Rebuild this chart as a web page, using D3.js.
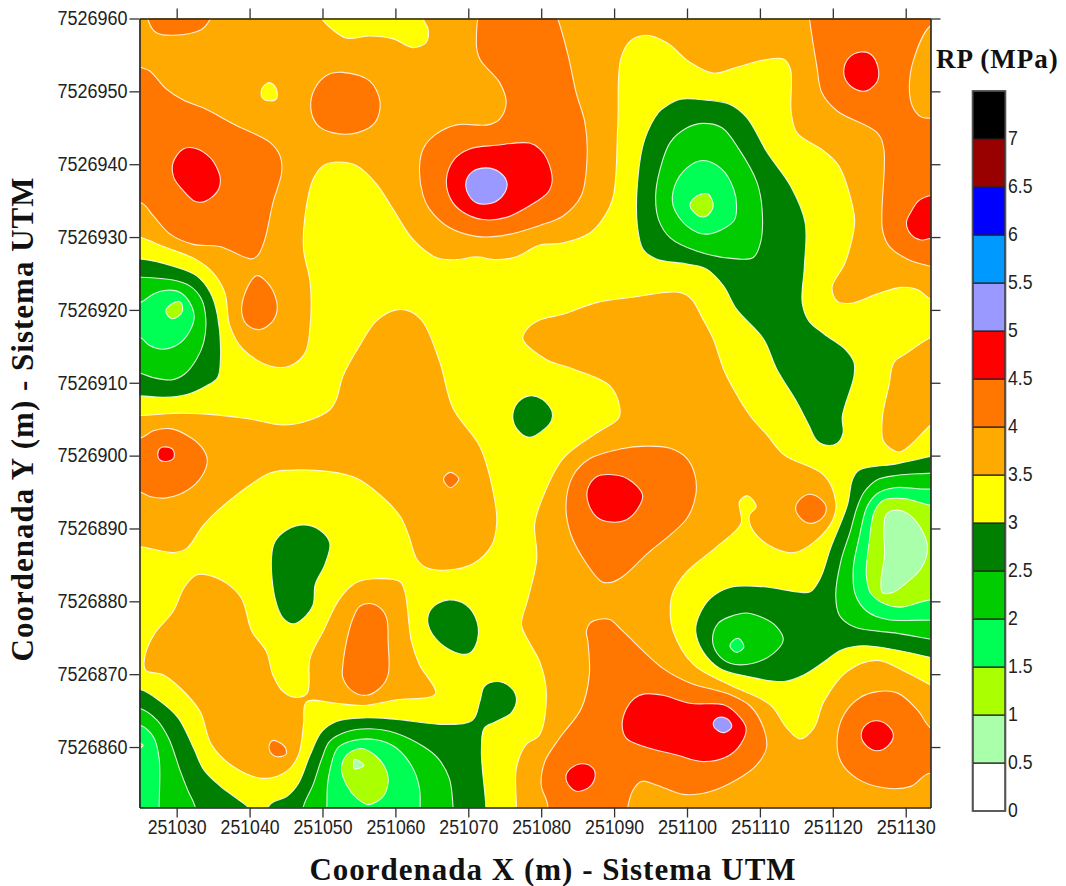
<!DOCTYPE html>
<html><head><meta charset="utf-8">
<script src="https://cdn.jsdelivr.net/npm/d3@7"></script>
<style>html,body{margin:0;padding:0;background:#fff}svg{display:block}</style>
</head><body><div id="chart"></div>
<script>
// Legend bands (RP, MPa)
const bandFloors = [0,0.5,1,1.5,2,2.5,3,3.5,4,4.5,5,5.5,6,6.5,7];
const bandColors = ["#ffffff","#aaffaa","#aaff00","#00ff55","#00cc00","#008000","#ffff00","#ffaa00","#ff7700","#ff0000","#9999ff","#0099ff","#0000ff","#990000","#000000"];
const legendTicks = ["0","0.5","1","1.5","2","2.5","3","3.5","4","4.5","5","5.5","6","6.5","7"];
const xTicks = [251030,251040,251050,251060,251070,251080,251090,251100,251110,251120,251130];
const yTicks = [7526860,7526870,7526880,7526890,7526900,7526910,7526920,7526930,7526940,7526950,7526960];
// Isoline rings: metres east of 251000, metres north of 7526800
const eastOffset = 251000, northOffset = 7526800;

const o35North = [[24.9,130],[28.2,128.7],[32.7,126.9],[35,125.1],[36.6,122.4],[37.3,117.8],[39.1,114.6],[42.8,112.3],[45.5,112.3],[47.6,114.1],[48.3,117.8],[48.3,123.8],[47.4,128.3],[47.6,132.9],[48.7,137.9],[50.1,139.8],[51.9,140.3],[54.7,139.8],[57.4,137.3],[59.7,133.8],[62.4,129.7],[65.6,127.2],[68.4,126.9],[71.1,127.3],[73.8,126.9],[76.6,127.3],[79.8,128.9],[83,129.2],[86.7,130.6],[88.7,132.9],[89.9,135.7],[90.5,145.3],[90.9,154.4],[92.2,156.9],[94.4,157.7],[97.2,156.7],[100.4,154],[103.6,152.5],[106.8,153.3],[110.5,154.3],[113.3,154.4],[114.2,153],[114.3,147.1],[115.1,144.3],[118.8,141.8],[120.8,139.8],[122.7,134.3],[123,132],[121.7,126.5],[119.9,123.1],[120.6,121.2],[122.4,120.9],[126.1,122.2],[129.3,123.1],[131.6,122.8],[133.4,121.5],[137,120],[140,130],[140,165],[80,166],[20,165],[20,131]];
const o35West = [[60.1,120],[57.4,118.5],[55.1,115.1],[52.8,110.9],[51.9,107.7],[51,106.3],[48.3,104.9],[44.7,104.2],[39.6,105.1],[34.1,105.7],[29.6,105.8],[25,105.5],[20,105.5],[20,87.5],[25,87.5],[29.6,86.7],[31.4,87.3],[33.7,90.5],[37.3,93.9],[42.8,97.6],[45.1,98],[51,97.8],[54.7,96.9],[57.9,94.6],[60.7,91.6],[61.8,89.1],[63,85.7],[64.3,84.6],[67.1,84.3],[70.7,85.2],[73.2,87.7],[73.9,90.9],[73.4,95.1],[71.6,101.2],[67.9,106.5],[66.1,112.8],[63.8,118.3],[62,119.8]];
const o35SouthWest = [[32.7,83.6],[31.1,82],[29.5,78.6],[27,75.6],[25.7,72.7],[25.7,70.6],[28.2,69.9],[30.5,68.1],[33.2,64.9],[34.8,60.3],[37.8,57.3],[41.9,55.7],[45.1,56.7],[46.7,58.9],[47.4,63.1],[47.8,66.2],[51.9,66],[55.6,65.7],[60.1,66.5],[65.5,67.3],[63.3,71.3],[62.2,74.5],[61.3,81.3],[60.6,82.7],[57.4,83.1],[54.7,82.6],[52.4,80.4],[50.1,75.9],[48.3,72.2],[47.9,67.4],[46.4,66.8],[44.6,67.6],[43.2,69.9],[42.3,73.1],[40.3,75.9],[38.9,80.4],[36.8,82.5],[34.3,83.6]];
const o35SouthEast = [[79.8,118.6],[83,119.4],[87.6,121],[92.2,121.7],[99,122.4],[100.6,121.5],[102.2,118.7],[103.6,116],[105,111.9],[106.4,109.1],[108.7,105.4],[111,102.8],[113.3,100.1],[118.8,97.3],[120.4,93.7],[120,91.2],[117.5,88.2],[114.7,86.7],[112,87.3],[109.7,88.9],[108.6,90.7],[108.6,91.9],[109.5,93],[108.3,94.5],[107.2,93.7],[107.4,90.7],[104.1,87.5],[100,84.1],[98.1,81.3],[97.7,79.1],[98.1,75.9],[100.9,71.3],[105.9,68.5],[111.4,65.8],[113.7,62.6],[115.5,61.1],[117.4,62.6],[118.8,66.3],[122,70.4],[126.1,71.9],[129.8,70.4],[133.4,68.5],[138,66],[138,48],[100,48],[76.6,48],[76.6,51.9],[76.6,57.1],[77.9,60.3],[79.8,61.7],[80.7,67.6],[79.8,71.7],[78.4,74.3],[77.3,76.8],[78.2,80.4],[79.4,85.9],[79.1,90.5],[79.8,93.2],[83,99.6],[87.6,103.1],[90.6,105.1],[90.8,106.5],[89.4,109.6],[84.4,111.9],[80.7,113.2],[77.5,116],[78,117.3]];
const o35East = [[133.4,116.2],[130.2,114.1],[128.4,112.8],[127.7,109.6],[126.8,105.2],[127,101.9],[129.1,100.5],[130.7,101.5],[133.4,104.2],[138,108],[138,118]];
const o35NorthEast = [[133.4,159],[131.1,154.4],[130.5,150.8],[130.9,148],[132.1,146.5],[133.4,146.3],[137,146],[137,160]];

const y30Islet = [[42.7,151.2],[43.6,150.5],[43.7,149],[42.6,148.7],[41.7,149.2],[41.7,150.4]];
const y30Top = [[49,163],[49.9,160],[51,158.8],[53.3,157.3],[56.5,157.6],[59.7,157.2],[62.4,156],[64.2,156.7],[64.5,158.5],[63.8,160],[63.5,163]];

const o40TopLeft = [[26,163],[26.4,159],[27.3,158],[29.5,157.7],[33.4,158.5],[34.6,159.9],[36,163]];
const o40West = [[25,153.3],[26.3,152.8],[28.6,150.3],[30.9,148.8],[33.7,147.7],[38.2,145.3],[42.8,143],[44.2,141.1],[44.4,138.9],[43.2,134.7],[42.1,129.7],[41.2,127.6],[40.3,127],[35.9,128.7],[32.3,129],[29.1,130.4],[26.8,132.9],[25,134.7],[20,131],[20,155]];
const o40Circle = [[52.8,152.6],[56.5,151.4],[57.9,148.5],[57.2,145.7],[54.7,144.3],[51.5,144.3],[49.4,145.3],[48.4,147.6],[49,150.5],[51,152.4]];
const o40Centre = [[72.5,163],[71.1,156.7],[71.6,154.4],[74.3,151.2],[75.2,148.5],[74.3,146.2],[72.7,145.4],[68.4,145.4],[65.4,144],[63.8,142.1],[63.3,139.3],[63.8,135.7],[64.7,133.8],[67.4,131.3],[71.1,130.1],[74.7,130.2],[79.8,131.6],[83,132.9],[85.5,135.7],[86.3,141.1],[86,145.7],[84.8,149.8],[83.7,154.9],[82.3,159.9],[81,163]];
const o40Drop = [[41,124.7],[42.8,123.3],[43.8,120.5],[43.2,118.5],[41.4,117.3],[39.6,118],[38.9,120.1],[39.8,123.3]];
const o40TopRight = [[116.5,163],[116.8,160],[117.8,153.5],[118.5,149.8],[120.6,147.3],[126.1,144.3],[127,142.1],[126.8,131.1],[127.7,128.8],[130.2,127],[133.4,126],[138,125],[138,163]];
const o40Left = [[25,102.4],[26.8,103.4],[29.1,103.7],[31.4,102.8],[33.4,101.2],[34.2,99.4],[33.4,97.1],[31.4,95.2],[28.6,94.2],[26.3,94.4],[25,95],[20,96],[20,102]];
const o40Diamond = [[67.5,97.7],[68.7,96.8],[67.5,95.6],[66.6,96.8]];
const o40Oval = [[56.5,79.7],[57.9,79.1],[58.8,77.7],[59,74.5],[59,69.9],[57.9,68.1],[56,67.1],[54.2,67.6],[52.8,69.5],[52.8,71.3],[53.5,75.4],[54.2,77.7],[55.1,79.3]];
const o40Speck = [[43.2,60.9],[44.8,60.1],[45,59],[43.7,58.7],[42.8,59.4],[42.7,60.3]];
const o40Mid = [[94.4,101.3],[97.7,101],[100,99.6],[101.1,97.3],[101.2,94.6],[100,91.4],[94.4,86.4],[91.2,83.4],[89.6,82.6],[88.3,82.7],[86.2,85.2],[84.1,89.1],[83.4,93.2],[84.4,97.3],[86.7,99.6],[90.8,100.9]];
const o40Small = [[116.9,94.7],[118.5,93.9],[119.1,92.8],[118.5,91.4],[116.9,90.7],[115.6,91.4],[114.9,92.8],[115.6,94.1]];
const o40South = [[87.8,77.5],[89.4,77.5],[91.2,75.9],[96.7,70.8],[100.4,68.8],[105.9,67.2],[108.7,65.6],[110.5,62.6],[110.9,59.9],[109.6,57.6],[106.8,55.5],[103.2,53.9],[99.5,53.5],[95.8,54.8],[93.8,55.3],[92.6,54.1],[91.9,51.9],[91.5,48],[80,48],[80.9,51.9],[80,54.8],[80.5,58],[82.5,61.2],[85.5,65.3],[86.6,69.9],[86.4,74.5],[86.2,75.9],[86.7,77]];
const o40SouthEast = [[126.1,67.6],[128.9,67.4],[131.6,65.1],[133.4,62.6],[138,60],[138,52],[133.4,56.4],[130.7,54.6],[127,54.4],[123.3,55.7],[121.1,58],[120.6,61.2],[121.5,64.4],[123.6,66.7]];

const r45West = [[30.9,142.1],[32.5,142.2],[34.6,140.9],[35.6,139.3],[36,137.9],[35.6,136.3],[33.9,134.9],[32.5,134.9],[30.7,136.6],[29.6,138.2],[29.5,140.2]];
const r45Centre = [[67,137.9],[68.1,140.7],[70.2,142.1],[73.8,142.6],[78.4,142.9],[79.8,142.1],[80.8,140.7],[81.5,137.7],[80.9,136.1],[78.4,134.3],[75.2,132.7],[72,132.4],[69.3,133.4],[67.7,135]];
const r45TopRight = [[123.8,155.4],[125.2,155.1],[126.2,153.3],[126.1,151.4],[124.7,150.1],[123.6,150.1],[122,151.2],[121.5,152.8],[122.2,154.6]];
const r45East = [[133.4,135.7],[131.8,135],[130.7,133.4],[130.1,132],[130.7,130.4],[132.1,129.6],[133.4,129.8],[138,129.5],[138,136]];
const r45Dot = [[28.4,101.2],[29.5,100.8],[29.6,99.7],[28.6,99.2],[27.7,99.4],[27.4,100.1],[27.7,101]];
const r45Mid = [[89.4,97.4],[91.9,96.8],[93.9,94.6],[93.3,92.8],[91.7,91.2],[89.4,90.9],[87.6,91.6],[86.4,93.7],[86.4,95.5],[87.6,97.1]];
const r45South = [[94.2,67.3],[96.7,67.1],[100.4,66],[105,65.8],[106.8,64.6],[108.1,62.6],[107.3,60.3],[105.5,58.7],[102.2,58],[98.6,58.9],[94,60.1],[91.7,61.2],[91.1,63],[91.7,65.3],[92.8,66.7]];
const r45SmallSouth = [[85.7,57.7],[87.1,57.1],[87.4,56],[86.7,54.6],[85,53.9],[83.9,54.6],[83.4,56],[84.1,57.1]];
const r45SouthEast = [[126.1,63.6],[127.7,62.8],[128.3,61.5],[127.5,60.1],[126.1,59.5],[124.7,60.1],[123.9,61.5],[124.5,63]];

const p50Centre = [[72.5,139.5],[74.3,138.9],[75.3,137.5],[75,136.1],[73.4,134.7],[71.1,134.7],[69.8,136.3],[69.7,137.7],[70.6,139]];
const p50South = [[104.8,64.1],[105.9,63.5],[106.1,62.7],[105.2,62],[104.3,62.2],[103.6,63.1],[104,63.9]];

const g25West = [[25,127],[29.5,126],[32.7,124.7],[34.6,122.4],[35.6,119.2],[36,113.2],[35.6,110.7],[34.1,109.6],[31.4,108.4],[28.2,108],[25,108.2],[20,108],[20,127]];
const g20West = [[25,124.5],[29.5,124.1],[31.8,123.3],[33.4,121.5],[34,118.7],[33.7,115.5],[32.7,113.2],[31.1,111.2],[29.3,110.4],[26.8,110.7],[25,111.3],[20,112],[20,124.5]];
const g15West = [[25,121],[26.8,122.2],[28.6,122.7],[30.5,122.4],[31.8,121],[32.4,119],[31.8,117.1],[30.5,115.5],[28.2,114.6],[26.3,115.1],[25,116.2],[20,117],[20,120]];
const g10West = [[29.3,120.8],[30.5,121.1],[30.8,119.9],[30.2,119.1],[29.3,118.8],[28.5,119.8]];

const g25Ridge = [[99,148.9],[102.7,148.8],[105.9,148.2],[108.2,146.4],[111,141.6],[114.2,137],[116.2,132],[116.1,126],[115.8,121],[116.7,118.5],[118.8,116.7],[121.7,114.6],[122.9,112.8],[122.9,110.9],[121.3,105.4],[121.4,103.1],[120.6,101.7],[119.2,101.4],[117.8,102.1],[116.7,104.2],[115.1,107.3],[112.3,111.9],[110.5,116],[106.8,120.1],[105,123.3],[102.7,125.6],[100,126.3],[95.8,127],[94,128.3],[93.2,131.5],[93.3,138.4],[94.2,143.4],[96.1,147.1],[97.2,148]];
const g20Ridge = [[102.2,145.6],[104.8,145],[107.1,142.1],[109.6,137.5],[110.3,133.8],[110.1,129.3],[109.1,127.2],[106.8,127],[101.3,128.1],[97.7,129.9],[96.1,132.4],[95.7,135.7],[96.3,139.3],[97.7,143],[100,145]];
const g15Ridge = [[102.2,140.5],[104.8,139.3],[106.4,136.6],[106.8,134.3],[106.4,132.2],[102.7,130.4],[100,131.5],[98.1,134.3],[98.3,137],[100,139.5]];
const g10Ridge = [[102,135.9],[102.9,135.9],[103.6,134.3],[102.7,132.9],[101.6,132.9],[100.4,134.3],[100.9,135.3]];

const g25Islet = [[78.4,108.2],[80.2,107.7],[81.5,106],[81.4,104.8],[80.5,103.7],[78.4,102.5],[76.8,103.5],[76.1,105.3],[76.8,107.3]];
const g25Tear = [[47.4,90.5],[49.6,89.8],[51,88],[50.3,85],[49,82.3],[48.7,79.5],[47.4,77.7],[46,76.9],[44.6,77.7],[43.5,80.4],[43,85.9],[43.5,88.2],[45.1,89.8]];
const g25Round = [[67.4,80.2],[69.7,79.5],[71.2,77.2],[71.2,74.5],[70.2,72.9],[68.8,72.8],[66.1,74.3],[64.5,76.8],[64.7,78.6],[65.8,79.7]];

const g25Corner = [[25,67.9],[27.7,66.3],[30.2,64],[32.3,59.9],[33.7,56.9],[36,54.6],[38.7,52.6],[39.8,51.6],[39.5,48],[20,48],[20,68]];
const g20Corner = [[25,65.3],[27.3,63.7],[28.9,61.2],[30.5,56.7],[31.6,53.9],[32.5,51.9],[33,48],[20,48],[20,65.3]];
const g15Corner = [[25,63],[26.8,61.4],[27.6,58.4],[27.6,51.9],[27.6,48],[20,48],[20,63]];
const g10Corner = [[24,60.8],[25.4,60.2],[24,59.5]];

const g25South = [[42.8,52.1],[45.1,53.2],[46.7,55],[48.3,58.9],[49.9,62.1],[51.9,63.5],[55.6,64],[60.1,63.8],[67,63.1],[70.6,63.7],[71.6,66.3],[72.2,68.3],[73.8,69],[75.7,68.3],[76.6,66.7],[75.9,64.7],[73.8,63.5],[72.2,62.6],[71.8,59.4],[72.4,51.9],[72.4,48],[42,48]];
const g20South = [[47.4,51.9],[48.7,54.8],[49.9,58.4],[51,60.8],[53.3,62.1],[56.5,62.5],[60.1,61.9],[63.8,60.1],[65.8,58.5],[67.4,55.7],[67.9,51.9],[68,48],[47,48]];
const g15South = [[50.6,51.9],[50.8,55.7],[52.1,59.9],[54.2,60.9],[57.4,61],[60.1,59.9],[62.4,57.1],[63.3,54.4],[63.4,51.9],[63.4,48],[50.6,48]];
const g10South = [[55.3,59.8],[57.4,58.7],[58.8,56.7],[59,55.1],[58.3,53.2],[56.3,52.1],[54.7,53],[53.3,54.8],[52.6,57.1],[53.3,58.9]];
const g05South = [[54.4,58.3],[55.7,57.5],[54.4,57]];

const g25East = [[133.4,99.9],[128.9,98.9],[123.6,98],[122.7,96.7],[122,93.2],[119.7,87.3],[118.3,83.2],[116.9,81.3],[115.1,81.3],[110.5,82],[105.9,81.9],[103.2,80.4],[101.6,77.9],[101.2,75.9],[102.2,73.1],[104.5,70.8],[108.2,69.7],[113.3,69],[116,69.9],[118.8,71.7],[121.1,73.3],[124.3,73.9],[133.4,72.3],[138,71],[138,101]];
const g20EastBlob = [[108.2,78.4],[110.5,77.7],[112.3,76.5],[113.2,74.7],[111.9,72.9],[109.1,71.5],[105.9,71.5],[104.1,72.9],[103.5,74.9],[104.3,77],[105.9,77.9]];
const g15EastBlob = [[107.1,74.9],[107.8,73.7],[106.8,73],[105.9,73.8],[106.2,74.5]];
const g20East = [[133.4,97.6],[128.9,97.3],[126.1,96.7],[124.3,95],[123.3,92.8],[122.4,89.6],[121.1,85.5],[120.4,80.9],[120.9,78.1],[122.9,76.5],[128.9,75.6],[133.4,74.8],[138,74],[138,98]];
const g15East = [[133.4,95.4],[128.4,95.6],[126.1,94.8],[124.7,93],[123.6,88.7],[122.8,84.5],[123.1,80.9],[124.7,78.6],[127.5,77.5],[133.4,77.4],[138,77],[138,96]];
const g10East = [[133.4,93.2],[129.8,94.1],[127,93.9],[125.7,92.3],[125,88.2],[124.6,83.6],[125.2,81.1],[127,79.7],[129.3,79.2],[133.4,80.2],[138,80],[138,93]];
const g05East = [[128.4,92.5],[130.2,92.1],[132.1,90],[133,87.3],[132.1,84.5],[129.8,82.3],[128.2,81.2],[126.8,81.2],[126.6,82.7],[127.1,86.4],[127,89.6],[127.3,91.9]];

// Paint order: [band floor, ring]
const regions = [
 [3.5,o35North],[3.5,o35West],[3.5,o35SouthWest],[3.5,o35SouthEast],[3.5,o35East],
 [3,y30Islet],[3,y30Top],
 [4,o40TopLeft],[4,o40West],[4,o40Circle],[4,o40Centre],[4,o40Drop],[4,o40TopRight],[3.5,o35NorthEast],
 [4,o40Left],[4,o40Diamond],[4,o40Oval],[4,o40Speck],[4,o40Mid],[4,o40Small],[4,o40South],[4,o40SouthEast],
 [4.5,r45West],[4.5,r45Centre],[4.5,r45TopRight],[4.5,r45East],[4.5,r45Dot],[4.5,r45Mid],[4.5,r45South],[4.5,r45SmallSouth],[4.5,r45SouthEast],
 [5,p50Centre],[5,p50South],
 [2.5,g25West],[2,g20West],[1.5,g15West],[1,g10West],
 [2.5,g25Ridge],[2,g20Ridge],[1.5,g15Ridge],[1,g10Ridge],
 [2.5,g25Islet],[2.5,g25Tear],[2.5,g25Round],
 [2.5,g25Corner],[2,g20Corner],[1.5,g15Corner],[1,g10Corner],
 [2.5,g25South],[2,g20South],[1.5,g15South],[1,g10South],[0.5,g05South],
 [2.5,g25East],[2,g20EastBlob],[1.5,g15EastBlob],[2,g20East],[1.5,g15East],[1,g10East],[0.5,g05East]
];

const W = 1066, H = 886;
const svg = d3.select("#chart").append("svg").attr("width",W).attr("height",H);
const x = d3.scaleLinear().domain([251024.9,251133.4]).range([139.5,930.5]);
const y = d3.scaleLinear().domain([7526851.7,7526960]).range([807.5,18.5]);
const colorOf = d3.scaleOrdinal().domain(bandFloors).range(bandColors);

svg.append("clipPath").attr("id","plot").append("rect")
  .attr("x",139.5).attr("y",18.5).attr("width",791).attr("height",789);

const line = d3.line()
  .x(d=>x(d[0]+eastOffset)).y(d=>y(d[1]+northOffset))
  .curve(d3.curveCatmullRomClosed.alpha(0.5));

const plot = svg.append("g").attr("clip-path","url(#plot)");
plot.append("rect").attr("x",139.5).attr("y",18.5).attr("width",791).attr("height",789)
  .attr("fill",colorOf(3));
plot.selectAll("path.region").data(regions).join("path").attr("class","region")
  .attr("d",d=>line(d[1]))
  .attr("fill",d=>colorOf(d[0]))
  .attr("stroke","#ffffff").attr("stroke-opacity",0.85).attr("stroke-width",1.1);

const tickFont = "'Liberation Sans',Arial,sans-serif";
function styleAxis(g,labelWidth){
  g.select(".domain").attr("stroke","#222").attr("stroke-width",1.6);
  g.selectAll(".tick line").attr("stroke","#333").attr("stroke-width",1.3);
  g.selectAll("text").attr("font-family",tickFont).attr("font-size",19.5).attr("fill","#222");
  if(labelWidth) g.selectAll("text").attr("textLength",labelWidth).attr("lengthAdjust","spacingAndGlyphs");
  else g.selectAll("text").remove();
}
const fmt = d3.format("d");
svg.append("g").attr("transform","translate(0,807.5)")
  .call(d3.axisBottom(x).tickValues(xTicks).tickFormat(fmt).tickSize(10).tickPadding(3).tickSizeOuter(0)).call(styleAxis,59);
svg.append("g").attr("transform","translate(0,18.5)")
  .call(d3.axisTop(x).tickValues(xTicks).tickSize(10).tickSizeOuter(0)).call(styleAxis,0);
svg.append("g").attr("transform","translate(139.5,0)")
  .call(d3.axisLeft(y).tickValues(yTicks).tickFormat(fmt).tickSize(10).tickPadding(2).tickSizeOuter(0)).call(styleAxis,70);
svg.append("g").attr("transform","translate(930.5,0)")
  .call(d3.axisRight(y).tickValues(yTicks).tickSize(10).tickSizeOuter(0)).call(styleAxis,0);

const titleFont = "'Liberation Serif','Times New Roman',serif";
svg.append("text").attr("x",553).attr("y",880).attr("text-anchor","middle")
  .attr("font-family",titleFont).attr("font-weight","bold").attr("font-size",31).attr("letter-spacing",1).attr("fill","#111")
  .text("Coordenada X (m) - Sistema UTM");
svg.append("text").attr("transform","translate(33,419) rotate(-90)").attr("text-anchor","middle")
  .attr("font-family",titleFont).attr("font-weight","bold").attr("font-size",31).attr("letter-spacing",1).attr("fill","#111")
  .text("Coordenada Y (m) - Sistema UTM");
svg.append("text").attr("x",936).attr("y",68)
  .attr("font-family",titleFont).attr("font-weight","bold").attr("font-size",27).attr("letter-spacing",1).attr("fill","#111")
  .text("RP (MPa)");

// Legend
const lg = d3.scaleLinear().domain([0,7.5]).range([811,91]);
const legend = svg.append("g");
legend.selectAll("rect").data(bandFloors).join("rect")
  .attr("x",973).attr("width",32)
  .attr("y",d=>lg(d+0.5)).attr("height",d=>lg(d)-lg(d+0.5))
  .attr("fill",d=>colorOf(d)).attr("stroke","#222").attr("stroke-width",1.2);
legend.append("rect").attr("x",972.5).attr("y",91).attr("width",33).attr("height",720)
  .attr("fill","none").attr("stroke","#555").attr("stroke-width",1.6);
legend.selectAll("text").data(legendTicks).join("text")
  .attr("transform",d=>`translate(1008,${lg(+d)-1}) scale(0.88,1)`).attr("dy","0.35em")
  .attr("font-family",tickFont).attr("font-size",20).attr("fill","#222")
  .text(d=>d);
</script></body></html>
